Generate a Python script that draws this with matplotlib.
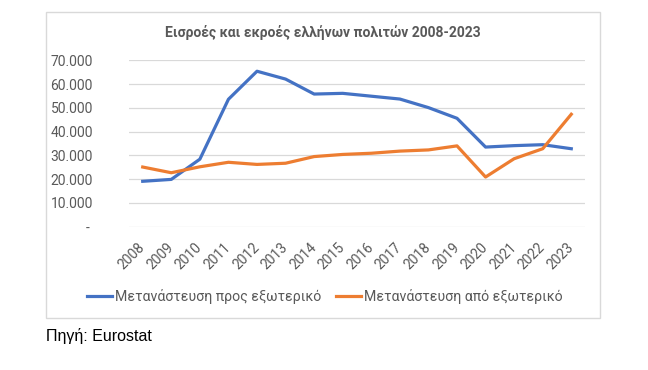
import matplotlib
matplotlib.use('Agg')
import matplotlib.pyplot as plt
from matplotlib.patches import Rectangle
from matplotlib.ticker import FuncFormatter

years = list(range(2008, 2024))
emigration = [19100, 19900, 28400, 53600, 65400, 62100, 55800, 56100, 54900, 53700,
              50100, 45600, 33500, 34100, 34500, 32800]
immigration = [25100, 22700, 25200, 27100, 26200, 26700, 29500, 30400, 30900, 31800,
               32300, 34000, 20900, 28600, 32800, 47300]
labels = ['Μετανάστευση προς εξωτερικό', 'Μετανάστευση από εξωτερικό']
title = 'Εισροές και εκροές ελλήνων πολιτών 2008-2023'
source = 'Πηγή: Eurostat'

plt.rcParams['font.family'] = ['Roboto', 'DejaVu Sans']
grey = '#595959'
W, H = 648, 370

fig = plt.figure(figsize=(6.48, 3.70), dpi=100)
fig.patches.append(Rectangle((46/W, 1-318/H), (600-46)/W, (318-12)/H,
                             transform=fig.transFigure, fill=False,
                             edgecolor='#D9D9D9', linewidth=1.0))

ax = fig.add_axes([129/W, 1-226.7/H, (585-129)/W, (226.7-60.3)/H])
ax.plot(years, emigration, color='#4472C4', linewidth=2.3, label=labels[0])
ax.plot(years, immigration, color='#ED7D31', linewidth=2.3, label=labels[1])

ax.set_xlim(years[0]-0.48, years[-1]+0.48)
ax.set_ylim(0, 70000)
ax.set_yticks(range(0, 70001, 10000))
ax.yaxis.set_major_formatter(FuncFormatter(
    lambda v, p: '- ' if v == 0 else '{:,.0f}'.format(v).replace(',', '.')))
ax.set_xticks(years)
ax.set_xticklabels([str(y) for y in years], rotation=45, ha='right', va='center',
                   rotation_mode='anchor')
ax.tick_params(axis='both', length=0, colors=grey, labelsize=10)
ax.tick_params(axis='y', pad=26)
ax.tick_params(axis='x', pad=13)
ax.grid(axis='y', color='#D9D9D9', linewidth=0.9)
ax.set_axisbelow(True)
for s in ax.spines.values():
    s.set_visible(False)

fig.text(323/W, 1-33/H, title, ha='center', va='center', fontsize=10,
         fontweight='bold', color=grey)
fig.legend(loc='center', bbox_to_anchor=(324.7/W, 1-296/H), ncol=2, frameon=False,
           fontsize=10.2, handlelength=1.8, handletextpad=0.2, columnspacing=1.0,
           labelcolor=grey)
fig.text(46/W, 1-336/H, source, ha='left', va='center', fontsize=11.5,
         family='Liberation Sans', color='black')

plt.savefig('out.png', dpi=100)
